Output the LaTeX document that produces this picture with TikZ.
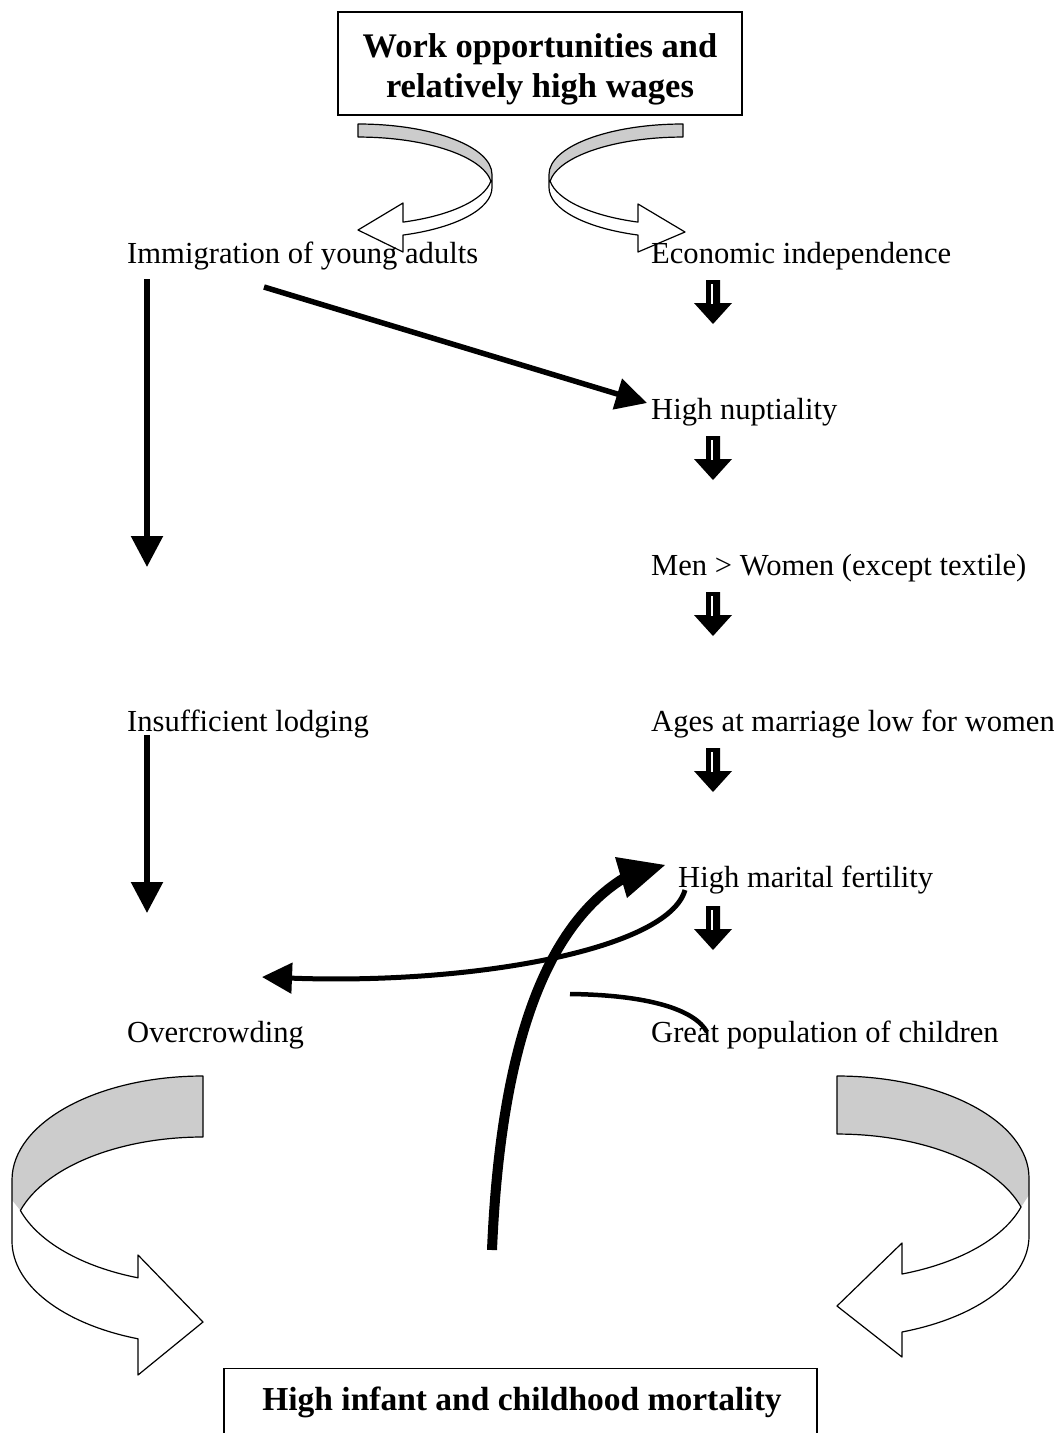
\documentclass[tikz,border=0pt]{standalone}
\usepackage{fontspec}
\setmainfont{Liberation Serif}
\usetikzlibrary{arrows.meta}
\begin{document}
\begin{tikzpicture}[x=1pt,y=-1pt,
  lbl/.style={anchor=base west, inner sep=0pt, font=\fontsize{30.6}{36}\selectfont},
  ttl/.style={anchor=base, inner sep=0pt, font=\fontsize{34.5}{40}\selectfont\bfseries},
  conn/.style={line width=5.5pt, -{Triangle[length=31pt,width=31pt]}},
  ribbon/.style={line width=1.2pt, line join=round},
  back/.style={fill=black!20},
  blockdown/.pic={
    \fill[black] (-7,0) -- (7,0) -- (7,23) -- (19,23) -- (0,44) -- (-19,23) -- (-7,23) -- cycle;
    \draw[white, line width=1.6pt] (-1,4) -- (-1,24);
  }]
\useasboundingbox (0,0) rectangle (1053,1433);
\clip (0,0) rectangle (1053,1433);

% boxes
\node[draw, line width=1.3pt, minimum width=404pt, minimum height=103pt, inner sep=0pt] (topbox) at (540,63.5) {};
\node[ttl] (top1) at (540,57) {Work opportunities and};
\node[ttl] (top2) at (540,97) {relatively high wages};
\node[draw, line width=1.3pt, minimum width=593pt, minimum height=140pt, inner sep=0pt, anchor=north] (mortbox) at (520.5,1368) {};
\node[ttl, font=\fontsize{33.5}{40}\selectfont\bfseries] (mort) at (522,1410) {High infant and childhood mortality};

% labels
\node[lbl] (imm) at (127,263) {Immigration of young adults};
\node[lbl] (eco) at (651,263) {Economic independence};
\node[lbl] (nup) at (651,419) {High nuptiality};
\node[lbl] (men) at (651,575) {Men > Women (except textile)};
\node[lbl] (lod) at (127,731) {Insufficient lodging};
\node[lbl] (age) at (651,731) {Ages at marriage low for women};
\node[lbl] (fer) at (678,887) {High marital fertility};
\node[lbl] (ovr) at (127,1042) {Overcrowding};
\node[lbl] (chi) at (651,1042) {Great population of children};

% top curved ribbon arrows
\fill[back] (358,124) arc[start angle=270,end angle=360,x radius=134,y radius=50.5] -- (492,178) -- (490.9,181) arc[start angle=352.6,end angle=270,x radius=134,y radius=50.5] -- cycle;
\draw[ribbon] (358,124) arc[start angle=270,end angle=360,x radius=134,y radius=50.5] -- (492,187.5) arc[start angle=0,end angle=70.38,x radius=134,y radius=50.5] -- (403,252) -- (358,230) -- (403,203) -- (403,222.1) arc[start angle=70.38,end angle=7.40,x radius=134,y radius=50.5] arc[start angle=352.6,end angle=270,x radius=134,y radius=50.5] -- cycle;

\fill[back] (683,124) arc[start angle=270,end angle=180,x radius=134,y radius=50.5] -- (549,178) -- (550.1,181) arc[start angle=187.4,end angle=270,x radius=134,y radius=50.5] -- cycle;
\draw[ribbon] (683,124) arc[start angle=270,end angle=180,x radius=134,y radius=50.5] -- (549,187.5) arc[start angle=180,end angle=109.62,x radius=134,y radius=50.5] -- (638,252) -- (685,232) -- (638,204) -- (638,222.1) arc[start angle=109.62,end angle=172.6,x radius=134,y radius=50.5] arc[start angle=187.4,end angle=270,x radius=134,y radius=50.5] -- cycle;

% bottom curved ribbon arrows
\fill[back] (203,1076) arc[start angle=270,end angle=180,x radius=191,y radius=104] -- (12,1200) -- (20.4,1210.5) arc[start angle=197.05,end angle=270,x radius=191,y radius=104] -- cycle;
\draw[ribbon] (203,1076) arc[start angle=270,end angle=180,x radius=191,y radius=104] -- (12,1241) arc[start angle=180,end angle=109.9,x radius=191,y radius=104] -- (138,1375) -- (203,1322) -- (138,1255) -- (138,1277.8) arc[start angle=109.9,end angle=162.95,x radius=191,y radius=104] arc[start angle=197.05,end angle=270,x radius=191,y radius=104] -- cycle;

\fill[back] (837,1076) arc[start angle=270,end angle=360,x radius=192,y radius=102] -- (1029,1195) -- (1021.1,1207) arc[start angle=343.48,end angle=270,x radius=192,y radius=102] -- cycle;
\draw[ribbon] (837,1076) arc[start angle=270,end angle=360,x radius=192,y radius=102] -- (1029,1236) arc[start angle=0,end angle=70.2,x radius=192,y radius=102] -- (902,1357) -- (837,1306) -- (902,1243) -- (902,1274) arc[start angle=70.2,end angle=16.52,x radius=192,y radius=102] arc[start angle=343.48,end angle=270,x radius=192,y radius=102] -- cycle;

% straight connectors
\coordinate (a1s) at (147,279);
\coordinate (a1e) at (147,567);
\coordinate (a2s) at (147,735);
\coordinate (a2e) at (147,913);
\coordinate (d1s) at (264,287);
\coordinate (d1e) at (647,403);
\draw[conn] (a1s) -- (a1e);
\draw[conn] (a2s) -- (a2e);
\draw[conn] (d1s) -- (d1e);

% small block arrows
\pic at (713,280) {blockdown};
\pic at (713,436) {blockdown};
\pic at (713,592) {blockdown};
\pic at (713,748) {blockdown};
\pic at (713,906) {blockdown};

% thick curved arrow from mortality to fertility
\coordinate (thk) at (492,1250);
\coordinate (thkb) at (624,878);
\draw[line width=10pt] (thk) .. controls (500,1060) and (540,930) .. (thkb);
\fill (615,857) -- (665,865) -- (627,898) -- cycle;

% fertility to overcrowding
\coordinate (fs) at (685,890);
\coordinate (fe) at (262,977);
\draw[line width=5pt, -{Triangle[length=30pt,width=30pt]}] (fs) .. controls (668,950) and (470,985) .. (fe);

% curve near children
\coordinate (cs) at (570,994);
\coordinate (ce) at (707,1032);
\draw[line width=4.5pt] (cs) .. controls (650,995) and (695,1010) .. (ce);
\end{tikzpicture}
\end{document}
